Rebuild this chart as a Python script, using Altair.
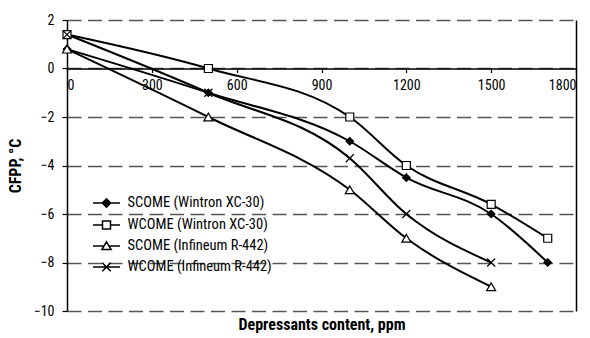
import altair as alt
import pandas as pd

# ---- data ----
series = [
    "SCOME (Wintron XC-30)",
    "WCOME (Wintron XC-30)",
    "SCOME (Infineum R-442)",
    "WCOME (Infineum R-442)",
]
ppm_s_wintron = [0, 500, 1000, 1200, 1500, 1700]
cfpp_s_wintron = [0.8, -1.0, -3.0, -4.5, -6.0, -8.0]
ppm_w_wintron = [0, 500, 1000, 1200, 1500, 1700]
cfpp_w_wintron = [1.4, 0.0, -2.0, -4.0, -5.6, -7.0]
ppm_s_infineum = [0, 500, 1000, 1200, 1500]
cfpp_s_infineum = [0.8, -2.0, -5.0, -7.0, -9.0]
ppm_w_infineum = [0, 500, 1000, 1200, 1500]
cfpp_w_infineum = [1.4, -1.0, -3.7, -6.0, -8.0]

x_ticks = [0, 300, 600, 900, 1200, 1500, 1800]
y_ticks = [2, 0, -2, -4, -6, -8, -10]

rows = []
for name, xs, ys in zip(
    series,
    [ppm_s_wintron, ppm_w_wintron, ppm_s_infineum, ppm_w_infineum],
    [cfpp_s_wintron, cfpp_w_wintron, cfpp_s_infineum, cfpp_w_infineum],
):
    for xv, yv in zip(xs, ys):
        rows.append({"series": name, "ppm": xv, "cfpp": yv})
df = pd.DataFrame(rows)

# ---- layout ----
W, H = 509, 291
YMIN, YMAX = min(y_ticks), max(y_ticks)
x_axis_offset = -H * (0 - YMIN) / (YMAX - YMIN)  # move x axis to y = 0

FONT = "Roboto Condensed, Roboto, sans-serif"

x_scale = alt.Scale(domain=[min(x_ticks), max(x_ticks)], nice=False, zero=False)
y_scale = alt.Scale(domain=[YMIN, YMAX], nice=False, zero=False)

x_axis = alt.Axis(
    values=x_ticks,
    format="d",
    offset=x_axis_offset,
    grid=False,
    domainColor="black",
    domainWidth=1.5,
    tickColor="black",
    tickSize=4,
    tickWidth=1.2,
    labelPadding=6,
    labelFont=FONT,
    labelFontSize=14,
    labelColor="black",
    title="Depressants content, ppm",
    titleFont=FONT,
    titleFontSize=16,
    titleFontWeight="bold",
    titleColor="black",
    titleY=-x_axis_offset + 5,
    titleBaseline="top",
)

y_axis = alt.Axis(
    values=y_ticks,
    format="d",
    grid=True,
    gridColor="#555555",
    gridDash=[14, 6.5],
    gridWidth=1.5,
    domainColor="black",
    domainWidth=1.5,
    tickColor="black",
    tickSize=5,
    tickWidth=1.2,
    labelPadding=8,
    labelFont=FONT,
    labelFontSize=14,
    labelColor="black",
    title="CFPP, °C",
    titleFont=FONT,
    titleFontSize=16,
    titleFontWeight="bold",
    titleColor="black",
    titlePadding=10,
)

right_axis = alt.Axis(
    orient="right",
    values=y_ticks,
    grid=False,
    labels=False,
    ticks=False,
    title=None,
    domainColor="black",
    domainWidth=1.5,
)

point_shapes = ["diamond", "square", "triangle-up", "M-1,-1L1,1M-1,1L1,-1"]
point_fills = ["black", "white", "white", "black"]
point_strokes = ["black", "black", "black", "black"]
point_sizes = [56, 64, 81, 64]

# legend symbols: short line + marker (unit = 7 px)
legend_paths = [
    "M-1.93,0H1.93M0,-0.6L0.6,0L0,0.6L-0.6,0Z",
    "M-1.93,0H-0.57M0.57,0H1.93M-0.57,-0.57H0.57V0.57H-0.57Z",
    "M-1.93,0H-0.36M0.36,0H1.93M0,-0.6L0.66,0.5L-0.66,0.5Z",
    "M-1.93,0H1.93M-0.6,-0.6L0.6,0.6M-0.6,0.6L0.6,-0.6",
]

base = alt.Chart(df)

lines = base.mark_line(
    color="black", strokeWidth=2, interpolate="monotone"
).encode(
    x=alt.X("ppm:Q", scale=x_scale, axis=x_axis),
    y=alt.Y("cfpp:Q", scale=y_scale, axis=y_axis),
    detail="series:N",
)

point_layers = []
for name, shp, fc, sz in zip(series, point_shapes, point_fills, point_sizes):
    point_layers.append(
        base.transform_filter(alt.datum.series == name)
        .mark_point(shape=shp, filled=True, fill=fc, stroke="black",
                    strokeWidth=1.2, size=sz, opacity=1)
        .encode(
            x=alt.X("ppm:Q", scale=x_scale, axis=x_axis),
            y=alt.Y("cfpp:Q", scale=y_scale, axis=None),
        )
    )

legend_def = alt.Legend(
    title=None,
    orient="none",
    legendX=31.5,
    legendY=175,
    padding=0,
    symbolSize=196,
    symbolStrokeColor="black",
    symbolStrokeWidth=1.5,
    symbolOpacity=1,
    labelOffset=13,
    rowPadding=6,
    labelLimit=300,
    labelFont=FONT,
    labelFontSize=14.5,
    labelColor="black",
)

legend_layer = base.mark_point(
    filled=True, strokeWidth=1.5, size=0
).encode(
    x=alt.X("ppm:Q", scale=x_scale, axis=x_axis),
    y=alt.Y("cfpp:Q", scale=y_scale, axis=right_axis),
    shape=alt.Shape("series:N", scale=alt.Scale(domain=series, range=legend_paths), legend=legend_def),
    fill=alt.Fill("series:N", scale=alt.Scale(domain=series, range=point_fills), legend=legend_def),
    stroke=alt.Stroke("series:N", scale=alt.Scale(domain=series, range=point_strokes), legend=legend_def),
)

chart = (
    alt.layer(lines, *point_layers, legend_layer)
    .resolve_axis(y="independent")
    .properties(
        width=W,
        height=H,
        autosize=alt.AutoSizeParams(type="none"),
        padding={"left": 67, "top": 20, "right": 14, "bottom": 27},
        background="white",
    )
    .configure_view(stroke=None)
)

chart.save("out.html", embed_options={"renderer": "svg", "actions": False})
